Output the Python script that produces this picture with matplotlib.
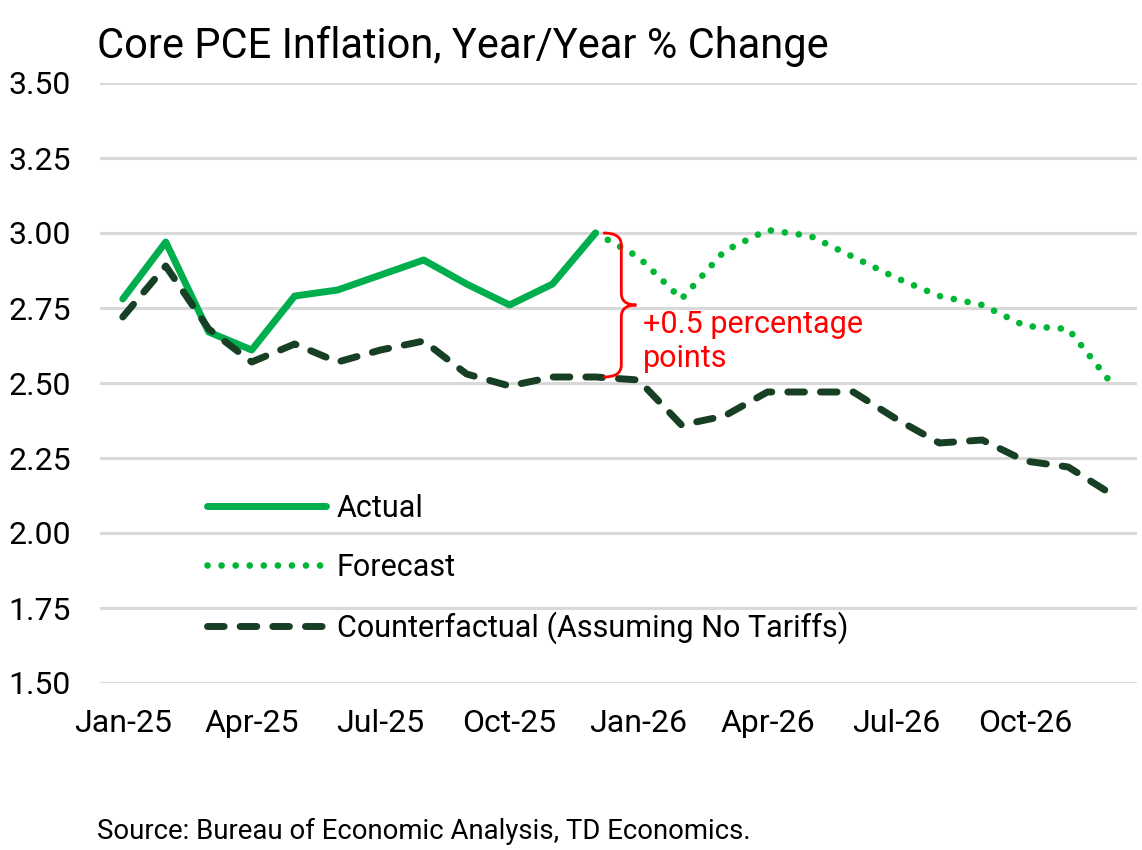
import numpy as np
import matplotlib.pyplot as plt
from matplotlib.path import Path
from matplotlib.patches import PathPatch

plt.rcParams['font.family'] = ['Roboto', 'DejaVu Sans']

months = ['Jan-25', 'Feb-25', 'Mar-25', 'Apr-25', 'May-25', 'Jun-25',
          'Jul-25', 'Aug-25', 'Sep-25', 'Oct-25', 'Nov-25', 'Dec-25',
          'Jan-26', 'Feb-26', 'Mar-26', 'Apr-26', 'May-26', 'Jun-26',
          'Jul-26', 'Aug-26', 'Sep-26', 'Oct-26', 'Nov-26', 'Dec-26']

# actual: Jan-25 .. Dec-25
actual = [2.78, 2.97, 2.67, 2.61, 2.79, 2.81, 2.86, 2.91, 2.83, 2.76, 2.83, 3.00]
# forecast: Dec-25 .. Dec-26
forecast = [3.00, 2.92, 2.78, 2.94, 3.01, 2.99, 2.92, 2.85, 2.79, 2.76, 2.69, 2.68, 2.50]
# counterfactual: Jan-25 .. Dec-26
counterfactual = [2.72, 2.89, 2.68, 2.57, 2.63, 2.57, 2.61, 2.64, 2.53, 2.49, 2.52, 2.52,
                  2.51, 2.36, 2.39, 2.47, 2.47, 2.47, 2.38, 2.30, 2.31, 2.24, 2.22, 2.13]

yticks = [1.50, 1.75, 2.00, 2.25, 2.50, 2.75, 3.00, 3.25, 3.50]

GREEN = '#00AE4D'
GREEN_DOT = '#00B634'
DARK = '#173F24'

x = np.arange(len(months))
x_act = x[:len(actual)]
x_fc = x[len(actual) - 1:]

fig = plt.figure(figsize=(11.42, 8.5), dpi=100)
ax = fig.add_axes([100 / 1142, 1 - 683 / 850, 1037 / 1142, 600 / 850])

ax.plot(x_fc, forecast, color=GREEN_DOT, lw=4.8, linestyle=(0, (0.01, 2.1)),
        dash_capstyle='round', label='Forecast', zorder=3)
ax.plot(x_act, actual, color=GREEN, lw=5, solid_capstyle='round',
        solid_joinstyle='round', label='Actual', zorder=4)
ax.plot(x, counterfactual, color=DARK, lw=5, linestyle=(0, (2.4, 2.3)),
        dash_capstyle='round', label='Counterfactual (Assuming No Tariffs)', zorder=5)

ax.set_xlim(-0.53, 23.6)
ax.set_ylim(1.5, 3.5)
ax.set_yticks(yticks)
ax.set_yticklabels([f'{v:.2f}' for v in yticks])
ax.set_xticks(x[::3])
ax.set_xticklabels(months[::3])
ax.tick_params(axis='both', length=0, labelsize=23, colors='black')
ax.tick_params(axis='y', pad=21)
ax.tick_params(axis='x', pad=19)
ax.grid(axis='y', color='#D9D9D9', lw=2.2)
ax.set_axisbelow(True)
for s in ax.spines.values():
    s.set_visible(False)

# brace between forecast and counterfactual at Dec-25
top = actual[-1]
bot = counterfactual[11]
mid = (top + bot) / 2
x0 = 11.2
x1 = 11.6
x2 = 11.95
h = 0.04
verts = [(x0, top), (x1, top), (x1, top - h), (x1, top - 2 * h),
         (x1, mid + h), (x1, mid + h), (x1, mid + h),
         (x1, mid), (x2, mid), (x2, mid),
         (x1, mid), (x1, mid - h), (x1, mid - h),
         (x1, bot + h), (x1, bot + h), (x1, bot + h),
         (x1, bot), (x0, bot)]
codes = [Path.MOVETO, Path.CURVE3, Path.CURVE3, Path.LINETO,
         Path.LINETO, Path.LINETO, Path.LINETO,
         Path.CURVE3, Path.CURVE3, Path.LINETO,
         Path.CURVE3, Path.CURVE3, Path.LINETO,
         Path.LINETO, Path.LINETO, Path.LINETO,
         Path.CURVE3, Path.CURVE3]
ax.add_patch(PathPatch(Path(verts, codes), fill=False, edgecolor='#FF0000',
                       lw=2, zorder=6, capstyle='round'))
ax.text(12.1, mid - 0.015, '+0.5 percentage\npoints', color='#FF0000',
        fontsize=22, va='top', ha='left', linespacing=1.25)

leg = ax.legend(handles=[ax.lines[1], ax.lines[0], ax.lines[2]],
                loc='lower left', bbox_to_anchor=(0.091, 0.044), frameon=False,
                fontsize=22, handlelength=3.9, handletextpad=0.36,
                labelspacing=0.98, borderaxespad=0)

fig.text(97 / 1142, 1 - 46 / 850, 'Core PCE Inflation, Year/Year % Change',
         fontsize=30, va='center', ha='left')
fig.text(97 / 1142, 1 - 831 / 850, 'Source: Bureau of Economic Analysis, TD Economics.',
         fontsize=19.8, va='center', ha='left')

fig.savefig('out.png', dpi=100)
